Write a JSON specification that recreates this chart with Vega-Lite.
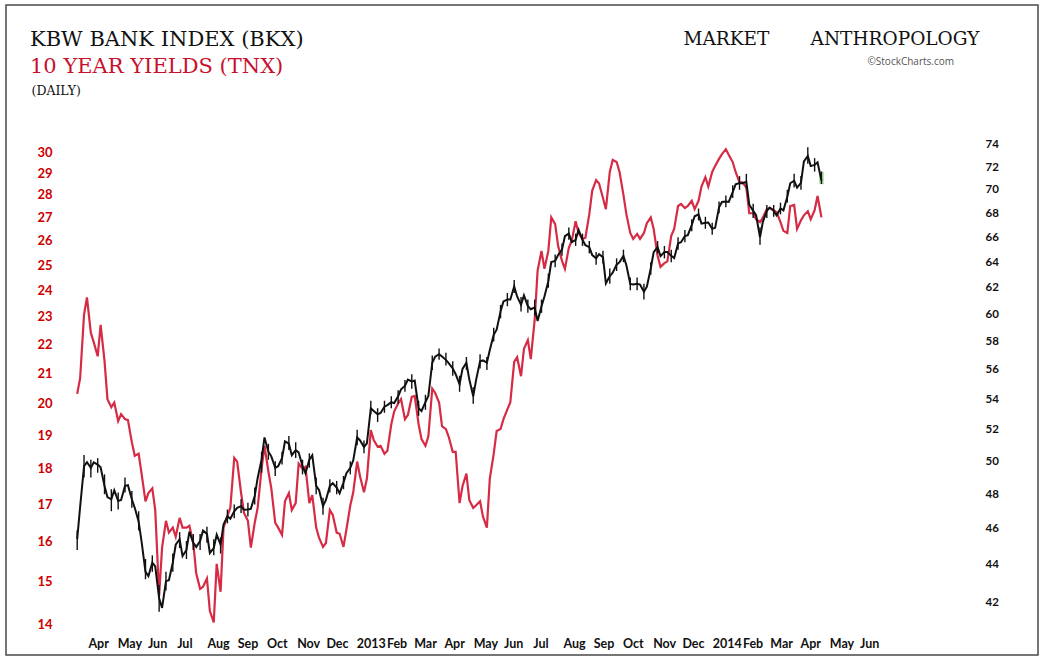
{
  "$schema": "https://vega.github.io/schema/vega-lite/v6.json",
  "width": 1032,
  "height": 650,
  "autosize": "none",
  "padding": {"left": 6, "top": 5, "right": 9, "bottom": 11},
  "background": "white",
  "config": {
    "view": {"stroke": "#4a4a4a", "strokeWidth": 1.5},
    "axis": {"grid": false, "domain": false, "ticks": false, "tickSize": 0, "minExtent": 0, "maxExtent": 0, "labelOverlap": false, "labelFlush": false}
  },
  "title": {
    "text": "KBW BANK INDEX (BKX)",
    "subtitle": "10 YEAR YIELDS (TNX)",
    "anchor": "start",
    "frame": "group",
    "offset": -72,
    "dx": 24,
    "font": "DejaVu Serif",
    "fontSize": 21,
    "fontWeight": "normal",
    "color": "#111111",
    "subtitleFont": "DejaVu Serif",
    "subtitleFontSize": 21,
    "subtitleColor": "#c8102e",
    "subtitlePadding": 6
  },
  "data": {
    "values": [
      {"date": "2012-03-20", "tnx": 20.31, "hi": 45.9, "lo": 44.8, "cl": 45.4},
      {"date": "2012-03-23", "tnx": 20.83, "cl": 47.26},
      {"date": "2012-03-27", "tnx": 23.08, "hi": 50.4, "lo": 49.0, "cl": 49.7},
      {"date": "2012-03-30", "tnx": 23.73, "cl": 49.94},
      {"date": "2012-04-03", "tnx": 22.41, "hi": 50.1, "lo": 49.0, "cl": 49.6},
      {"date": "2012-04-06", "tnx": 22.07, "cl": 49.94},
      {"date": "2012-04-10", "tnx": 21.58, "hi": 50.2, "lo": 49.3, "cl": 49.8},
      {"date": "2012-04-13", "tnx": 22.70, "cl": 49.63},
      {"date": "2012-04-17", "tnx": 21.42, "hi": 49.2, "lo": 48.0, "cl": 48.5},
      {"date": "2012-04-20", "tnx": 20.14, "cl": 47.83},
      {"date": "2012-04-24", "tnx": 19.88, "hi": 48.3, "lo": 47.0, "cl": 47.7},
      {"date": "2012-04-27", "tnx": 20.03, "cl": 48.24},
      {"date": "2012-05-01", "tnx": 19.44, "hi": 48.1, "lo": 47.1, "cl": 47.6},
      {"date": "2012-05-04", "tnx": 19.66, "cl": 47.66},
      {"date": "2012-05-08", "tnx": 19.50, "hi": 49.0, "lo": 48.1, "cl": 48.5},
      {"date": "2012-05-11", "tnx": 19.47, "cl": 48.54},
      {"date": "2012-05-15", "tnx": 18.79, "hi": 48.2, "lo": 47.2, "cl": 47.7},
      {"date": "2012-05-18", "tnx": 18.38, "cl": 47.20},
      {"date": "2012-05-22", "tnx": 18.44, "hi": 47.0, "lo": 45.9, "cl": 46.4},
      {"date": "2012-05-25", "tnx": 17.86, "cl": 45.26},
      {"date": "2012-05-29", "tnx": 17.08, "hi": 44.3, "lo": 43.2, "cl": 43.6},
      {"date": "2012-06-01", "tnx": 17.31, "cl": 43.37},
      {"date": "2012-06-05", "tnx": 17.44, "hi": 44.5, "lo": 43.6, "cl": 44.1},
      {"date": "2012-06-08", "tnx": 16.84, "cl": 43.89},
      {"date": "2012-06-12", "tnx": 14.67, "hi": 42.9, "lo": 41.5, "cl": 42.2},
      {"date": "2012-06-15", "tnx": 15.85, "cl": 41.69},
      {"date": "2012-06-19", "tnx": 16.55, "hi": 43.6, "lo": 42.6, "cl": 43.1},
      {"date": "2012-06-22", "tnx": 16.24, "cl": 43.15},
      {"date": "2012-06-26", "tnx": 16.37, "hi": 44.6, "lo": 43.6, "cl": 44.1},
      {"date": "2012-06-29", "tnx": 16.13, "cl": 45.09},
      {"date": "2012-07-03", "tnx": 16.63, "hi": 45.8, "lo": 44.9, "cl": 45.4},
      {"date": "2012-07-06", "tnx": 16.37, "cl": 44.46},
      {"date": "2012-07-10", "tnx": 16.37, "hi": 45.3, "lo": 44.3, "cl": 44.8},
      {"date": "2012-07-13", "tnx": 16.42, "cl": 45.83},
      {"date": "2012-07-17", "tnx": 15.97, "hi": 45.7, "lo": 44.8, "cl": 45.2},
      {"date": "2012-07-20", "tnx": 15.21, "cl": 44.97},
      {"date": "2012-07-24", "tnx": 14.83, "hi": 45.7, "lo": 44.8, "cl": 45.3},
      {"date": "2012-07-27", "tnx": 14.88, "cl": 45.89},
      {"date": "2012-07-31", "tnx": 15.08, "hi": 46.1, "lo": 45.2, "cl": 45.7},
      {"date": "2012-08-03", "tnx": 14.31, "cl": 44.63},
      {"date": "2012-08-07", "tnx": 14.05, "hi": 45.4, "lo": 44.5, "cl": 44.9},
      {"date": "2012-08-10", "tnx": 15.44, "cl": 45.66},
      {"date": "2012-08-14", "tnx": 14.76, "hi": 45.5, "lo": 44.6, "cl": 45.1},
      {"date": "2012-08-17", "tnx": 16.37, "cl": 46.23},
      {"date": "2012-08-21", "tnx": 16.68, "hi": 47.1, "lo": 46.3, "cl": 46.7},
      {"date": "2012-08-24", "tnx": 16.90, "cl": 46.57},
      {"date": "2012-08-28", "tnx": 18.32, "hi": 47.4, "lo": 46.6, "cl": 47.0},
      {"date": "2012-08-31", "tnx": 18.21, "cl": 47.20},
      {"date": "2012-09-04", "tnx": 17.31, "hi": 47.7, "lo": 46.9, "cl": 47.3},
      {"date": "2012-09-07", "tnx": 16.76, "cl": 47.09},
      {"date": "2012-09-11", "tnx": 16.55, "hi": 47.5, "lo": 46.7, "cl": 47.1},
      {"date": "2012-09-14", "tnx": 15.85, "cl": 47.14},
      {"date": "2012-09-18", "tnx": 16.50, "hi": 48.4, "lo": 47.4, "cl": 47.9},
      {"date": "2012-09-21", "tnx": 16.90, "cl": 48.98},
      {"date": "2012-09-25", "tnx": 18.00, "hi": 50.6, "lo": 49.3, "cl": 50.1},
      {"date": "2012-09-28", "tnx": 18.68, "cl": 51.50},
      {"date": "2012-10-02", "tnx": 17.92, "hi": 51.1, "lo": 50.1, "cl": 50.6},
      {"date": "2012-10-05", "tnx": 17.44, "cl": 50.31},
      {"date": "2012-10-09", "tnx": 16.50, "hi": 50.0, "lo": 49.1, "cl": 49.6},
      {"date": "2012-10-12", "tnx": 16.37, "cl": 49.70},
      {"date": "2012-10-16", "tnx": 16.18, "hi": 50.6, "lo": 49.8, "cl": 50.2},
      {"date": "2012-10-19", "tnx": 17.08, "cl": 51.25},
      {"date": "2012-10-23", "tnx": 17.31, "hi": 51.6, "lo": 50.7, "cl": 51.1},
      {"date": "2012-10-26", "tnx": 16.84, "cl": 50.38},
      {"date": "2012-10-30", "tnx": 17.03, "hi": 51.2, "lo": 50.2, "cl": 50.7},
      {"date": "2012-11-02", "tnx": 18.15, "cl": 50.56},
      {"date": "2012-11-06", "tnx": 18.00, "hi": 50.1, "lo": 49.2, "cl": 49.7},
      {"date": "2012-11-09", "tnx": 18.06, "cl": 49.27},
      {"date": "2012-11-13", "tnx": 17.03, "hi": 50.5, "lo": 49.6, "cl": 50.1},
      {"date": "2012-11-16", "tnx": 17.25, "cl": 50.38},
      {"date": "2012-11-20", "tnx": 16.37, "hi": 49.0, "lo": 48.0, "cl": 48.5},
      {"date": "2012-11-23", "tnx": 16.10, "cl": 48.24},
      {"date": "2012-11-27", "tnx": 15.87, "hi": 47.8, "lo": 46.8, "cl": 47.3},
      {"date": "2012-11-30", "tnx": 15.97, "cl": 47.66},
      {"date": "2012-12-04", "tnx": 16.84, "hi": 48.9, "lo": 48.1, "cl": 48.5},
      {"date": "2012-12-07", "tnx": 16.71, "cl": 48.66},
      {"date": "2012-12-11", "tnx": 16.24, "hi": 48.8, "lo": 48.0, "cl": 48.4},
      {"date": "2012-12-14", "tnx": 16.21, "cl": 48.06},
      {"date": "2012-12-18", "tnx": 15.87, "hi": 49.1, "lo": 48.3, "cl": 48.7},
      {"date": "2012-12-21", "tnx": 16.32, "cl": 49.27},
      {"date": "2012-12-25", "tnx": 16.97, "hi": 50.0, "lo": 49.2, "cl": 49.6},
      {"date": "2012-12-28", "tnx": 17.33, "cl": 50.06},
      {"date": "2013-01-01", "tnx": 18.21, "hi": 52.0, "lo": 51.0, "cl": 51.5},
      {"date": "2013-01-04", "tnx": 17.78, "cl": 51.31},
      {"date": "2013-01-08", "tnx": 17.33, "hi": 51.3, "lo": 50.5, "cl": 50.9},
      {"date": "2013-01-11", "tnx": 17.72, "cl": 51.13},
      {"date": "2013-01-15", "tnx": 19.16, "hi": 53.9, "lo": 53.0, "cl": 53.4},
      {"date": "2013-01-18", "tnx": 18.85, "cl": 53.22},
      {"date": "2013-01-22", "tnx": 18.65, "hi": 53.4, "lo": 52.5, "cl": 53.0},
      {"date": "2013-01-25", "tnx": 18.68, "cl": 53.09},
      {"date": "2013-01-29", "tnx": 18.44, "hi": 53.9, "lo": 53.1, "cl": 53.5},
      {"date": "2013-02-01", "tnx": 18.53, "cl": 53.61},
      {"date": "2013-02-05", "tnx": 19.34, "hi": 54.2, "lo": 53.4, "cl": 53.8},
      {"date": "2013-02-08", "tnx": 19.75, "cl": 53.74},
      {"date": "2013-02-12", "tnx": 20.00, "hi": 54.6, "lo": 53.7, "cl": 54.2},
      {"date": "2013-02-15", "tnx": 20.14, "cl": 54.67},
      {"date": "2013-02-19", "tnx": 19.50, "hi": 55.3, "lo": 54.5, "cl": 54.9},
      {"date": "2013-02-22", "tnx": 19.63, "cl": 55.33},
      {"date": "2013-02-26", "tnx": 20.21, "hi": 55.7, "lo": 54.7, "cl": 55.2},
      {"date": "2013-03-01", "tnx": 20.24, "cl": 55.26},
      {"date": "2013-03-05", "tnx": 19.34, "hi": 53.9, "lo": 52.9, "cl": 53.4},
      {"date": "2013-03-08", "tnx": 18.88, "cl": 53.22},
      {"date": "2013-03-12", "tnx": 18.68, "hi": 54.3, "lo": 53.3, "cl": 53.8},
      {"date": "2013-03-15", "tnx": 18.97, "cl": 54.22},
      {"date": "2013-03-19", "tnx": 20.48, "hi": 57.0, "lo": 56.0, "cl": 56.5},
      {"date": "2013-03-22", "tnx": 20.34, "cl": 56.93},
      {"date": "2013-03-26", "tnx": 20.03, "hi": 57.5, "lo": 56.7, "cl": 57.1},
      {"date": "2013-03-29", "tnx": 19.28, "cl": 56.93},
      {"date": "2013-04-02", "tnx": 19.19, "hi": 57.2, "lo": 56.3, "cl": 56.7},
      {"date": "2013-04-05", "tnx": 18.94, "cl": 56.46},
      {"date": "2013-04-09", "tnx": 18.50, "hi": 56.6, "lo": 55.6, "cl": 56.1},
      {"date": "2013-04-12", "tnx": 18.50, "cl": 55.70},
      {"date": "2013-04-16", "tnx": 17.03, "hi": 55.6, "lo": 54.5, "cl": 55.0},
      {"date": "2013-04-19", "tnx": 17.50, "cl": 56.07},
      {"date": "2013-04-23", "tnx": 17.86, "hi": 56.9, "lo": 56.0, "cl": 56.5},
      {"date": "2013-04-26", "tnx": 17.11, "cl": 55.33},
      {"date": "2013-04-30", "tnx": 16.90, "hi": 54.8, "lo": 53.7, "cl": 54.2},
      {"date": "2013-05-03", "tnx": 16.97, "cl": 55.33},
      {"date": "2013-05-07", "tnx": 17.08, "hi": 57.1, "lo": 56.1, "cl": 56.6},
      {"date": "2013-05-10", "tnx": 16.66, "cl": 56.66},
      {"date": "2013-05-14", "tnx": 16.37, "hi": 56.9, "lo": 56.0, "cl": 56.5},
      {"date": "2013-05-17", "tnx": 17.72, "cl": 57.40},
      {"date": "2013-05-21", "tnx": 18.44, "hi": 59.0, "lo": 58.0, "cl": 58.5},
      {"date": "2013-05-24", "tnx": 19.13, "cl": 58.86},
      {"date": "2013-05-28", "tnx": 19.19, "hi": 60.7, "lo": 59.7, "cl": 60.2},
      {"date": "2013-05-31", "tnx": 19.50, "cl": 60.96},
      {"date": "2013-06-04", "tnx": 19.81, "hi": 61.6, "lo": 60.6, "cl": 61.1},
      {"date": "2013-06-07", "tnx": 20.03, "cl": 61.11},
      {"date": "2013-06-11", "tnx": 21.39, "hi": 62.6, "lo": 61.6, "cl": 62.1},
      {"date": "2013-06-14", "tnx": 21.55, "cl": 61.33},
      {"date": "2013-06-18", "tnx": 20.90, "hi": 61.3, "lo": 60.2, "cl": 60.7},
      {"date": "2013-06-21", "tnx": 21.84, "cl": 61.41},
      {"date": "2013-06-25", "tnx": 22.15, "hi": 61.1, "lo": 60.1, "cl": 60.6},
      {"date": "2013-06-28", "tnx": 21.48, "cl": 60.37},
      {"date": "2013-07-02", "tnx": 22.89, "hi": 61.1, "lo": 59.9, "cl": 60.5},
      {"date": "2013-07-05", "tnx": 24.78, "cl": 59.50},
      {"date": "2013-07-09", "tnx": 25.58, "hi": 61.1, "lo": 60.1, "cl": 60.6},
      {"date": "2013-07-12", "tnx": 24.85, "cl": 61.33},
      {"date": "2013-07-16", "tnx": 25.58, "hi": 63.1, "lo": 62.0, "cl": 62.5},
      {"date": "2013-07-19", "tnx": 27.00, "cl": 64.00},
      {"date": "2013-07-23", "tnx": 26.71, "hi": 64.6, "lo": 63.6, "cl": 64.1},
      {"date": "2013-07-26", "tnx": 25.79, "cl": 64.56},
      {"date": "2013-07-30", "tnx": 25.17, "hi": 65.5, "lo": 64.5, "cl": 65.0},
      {"date": "2013-08-02", "tnx": 24.85, "cl": 66.09},
      {"date": "2013-08-06", "tnx": 25.71, "hi": 66.8, "lo": 65.8, "cl": 66.3},
      {"date": "2013-08-09", "tnx": 26.00, "cl": 65.60},
      {"date": "2013-08-13", "tnx": 26.83, "hi": 66.3, "lo": 65.3, "cl": 65.8},
      {"date": "2013-08-16", "tnx": 26.33, "cl": 66.61},
      {"date": "2013-08-20", "tnx": 26.08, "hi": 66.3, "lo": 65.3, "cl": 65.8},
      {"date": "2013-08-23", "tnx": 26.13, "cl": 65.36},
      {"date": "2013-08-27", "tnx": 27.14, "hi": 65.7, "lo": 64.7, "cl": 65.2},
      {"date": "2013-08-30", "tnx": 28.19, "cl": 64.56},
      {"date": "2013-09-03", "tnx": 28.67, "hi": 64.8, "lo": 63.8, "cl": 64.3},
      {"date": "2013-09-06", "tnx": 28.52, "cl": 64.64},
      {"date": "2013-09-10", "tnx": 27.86, "hi": 64.9, "lo": 63.9, "cl": 64.4},
      {"date": "2013-09-13", "tnx": 27.36, "cl": 62.33},
      {"date": "2013-09-17", "tnx": 29.05, "hi": 63.5, "lo": 62.3, "cl": 62.9},
      {"date": "2013-09-20", "tnx": 29.62, "cl": 63.17},
      {"date": "2013-09-24", "tnx": 29.52, "hi": 64.3, "lo": 63.3, "cl": 63.8},
      {"date": "2013-09-27", "tnx": 29.05, "cl": 64.00},
      {"date": "2013-10-01", "tnx": 28.00, "hi": 65.0, "lo": 64.0, "cl": 64.5},
      {"date": "2013-10-04", "tnx": 27.14, "cl": 63.75},
      {"date": "2013-10-08", "tnx": 26.33, "hi": 62.8, "lo": 61.8, "cl": 62.3},
      {"date": "2013-10-11", "tnx": 26.08, "cl": 62.25},
      {"date": "2013-10-15", "tnx": 26.29, "hi": 62.8, "lo": 61.8, "cl": 62.3},
      {"date": "2013-10-18", "tnx": 26.08, "cl": 62.25},
      {"date": "2013-10-22", "tnx": 26.33, "hi": 62.3, "lo": 61.1, "cl": 61.7},
      {"date": "2013-10-25", "tnx": 26.75, "cl": 62.08},
      {"date": "2013-10-29", "tnx": 27.00, "hi": 64.0, "lo": 63.0, "cl": 63.5},
      {"date": "2013-11-01", "tnx": 26.50, "cl": 64.80},
      {"date": "2013-11-05", "tnx": 25.38, "hi": 65.7, "lo": 64.7, "cl": 65.2},
      {"date": "2013-11-08", "tnx": 24.93, "cl": 64.48},
      {"date": "2013-11-12", "tnx": 25.08, "hi": 65.3, "lo": 64.3, "cl": 64.8},
      {"date": "2013-11-15", "tnx": 25.15, "cl": 64.80},
      {"date": "2013-11-19", "tnx": 26.21, "hi": 65.0, "lo": 64.0, "cl": 64.5},
      {"date": "2013-11-22", "tnx": 26.50, "cl": 64.32},
      {"date": "2013-11-26", "tnx": 27.50, "hi": 66.0, "lo": 65.0, "cl": 65.5},
      {"date": "2013-11-29", "tnx": 27.59, "cl": 65.60},
      {"date": "2013-12-03", "tnx": 27.41, "hi": 66.6, "lo": 65.6, "cl": 66.1},
      {"date": "2013-12-06", "tnx": 27.50, "cl": 66.17},
      {"date": "2013-12-10", "tnx": 27.73, "hi": 67.5, "lo": 66.5, "cl": 67.0},
      {"date": "2013-12-13", "tnx": 27.36, "cl": 67.74},
      {"date": "2013-12-17", "tnx": 27.73, "hi": 68.4, "lo": 67.4, "cl": 67.9},
      {"date": "2013-12-20", "tnx": 28.38, "cl": 67.13},
      {"date": "2013-12-24", "tnx": 28.81, "hi": 67.7, "lo": 66.7, "cl": 67.2},
      {"date": "2013-12-27", "tnx": 28.38, "cl": 67.22},
      {"date": "2013-12-31", "tnx": 29.05, "hi": 67.2, "lo": 66.2, "cl": 66.7},
      {"date": "2014-01-03", "tnx": 29.33, "cl": 66.78},
      {"date": "2014-01-07", "tnx": 29.67, "hi": 69.0, "lo": 68.0, "cl": 68.5},
      {"date": "2014-01-10", "tnx": 29.90, "cl": 68.96},
      {"date": "2014-01-14", "tnx": 30.14, "hi": 69.5, "lo": 68.5, "cl": 69.0},
      {"date": "2014-01-17", "tnx": 29.86, "cl": 68.96},
      {"date": "2014-01-21", "tnx": 29.52, "hi": 70.4, "lo": 69.3, "cl": 69.8},
      {"date": "2014-01-24", "tnx": 29.05, "cl": 70.48},
      {"date": "2014-01-28", "tnx": 28.57, "hi": 71.2, "lo": 70.0, "cl": 70.6},
      {"date": "2014-01-31", "tnx": 28.57, "cl": 70.57},
      {"date": "2014-02-04", "tnx": 28.33, "hi": 71.4, "lo": 70.1, "cl": 70.7},
      {"date": "2014-02-07", "tnx": 27.18, "cl": 68.72},
      {"date": "2014-02-11", "tnx": 27.18, "hi": 68.8, "lo": 67.6, "cl": 68.2},
      {"date": "2014-02-14", "tnx": 26.92, "cl": 67.83},
      {"date": "2014-02-18", "tnx": 26.79, "hi": 66.8, "lo": 65.4, "cl": 66.0},
      {"date": "2014-02-21", "tnx": 27.00, "cl": 67.30},
      {"date": "2014-02-25", "tnx": 27.36, "hi": 68.7, "lo": 67.6, "cl": 68.2},
      {"date": "2014-02-28", "tnx": 27.41, "cl": 68.48},
      {"date": "2014-03-04", "tnx": 27.32, "hi": 68.7, "lo": 67.7, "cl": 68.2},
      {"date": "2014-03-07", "tnx": 27.23, "cl": 67.83},
      {"date": "2014-03-11", "tnx": 26.79, "hi": 68.9, "lo": 67.9, "cl": 68.4},
      {"date": "2014-03-14", "tnx": 26.42, "cl": 68.24},
      {"date": "2014-03-18", "tnx": 26.33, "hi": 70.0, "lo": 68.9, "cl": 69.4},
      {"date": "2014-03-21", "tnx": 27.50, "cl": 70.57},
      {"date": "2014-03-25", "tnx": 27.55, "hi": 71.4, "lo": 70.2, "cl": 70.8},
      {"date": "2014-03-28", "tnx": 26.50, "cl": 70.19},
      {"date": "2014-04-01", "tnx": 26.87, "hi": 71.2, "lo": 70.0, "cl": 70.6},
      {"date": "2014-04-04", "tnx": 27.09, "cl": 72.52},
      {"date": "2014-04-08", "tnx": 27.27, "hi": 73.8, "lo": 72.3, "cl": 73.0},
      {"date": "2014-04-11", "tnx": 26.92, "cl": 72.09},
      {"date": "2014-04-15", "tnx": 27.32, "hi": 72.8, "lo": 71.6, "cl": 72.2},
      {"date": "2014-04-18", "tnx": 27.95, "cl": 72.43},
      {"date": "2014-04-22", "tnx": 27.00, "hi": 71.6, "lo": 70.5, "cl": 70.8}
    ]
  },
  "encoding": {
    "x": {
      "field": "date",
      "type": "temporal",
      "scale": {
        "domain": [{"year": 2012, "month": 1, "date": 7}, {"year": 2014, "month": 11, "date": 30}],
        "nice": false
      },
      "axis": {
        "orient": "bottom",
        "values": [
          {"year": 2012, "month": 4, "date": 1}, {"year": 2012, "month": 5, "date": 1}, {"year": 2012, "month": 6, "date": 1},
          {"year": 2012, "month": 7, "date": 1}, {"year": 2012, "month": 8, "date": 1}, {"year": 2012, "month": 9, "date": 1},
          {"year": 2012, "month": 10, "date": 1}, {"year": 2012, "month": 11, "date": 1}, {"year": 2012, "month": 12, "date": 1},
          {"year": 2013, "month": 1, "date": 1}, {"year": 2013, "month": 2, "date": 1}, {"year": 2013, "month": 3, "date": 1},
          {"year": 2013, "month": 4, "date": 1}, {"year": 2013, "month": 5, "date": 1}, {"year": 2013, "month": 6, "date": 1},
          {"year": 2013, "month": 7, "date": 1}, {"year": 2013, "month": 8, "date": 1}, {"year": 2013, "month": 9, "date": 1},
          {"year": 2013, "month": 10, "date": 1}, {"year": 2013, "month": 11, "date": 1}, {"year": 2013, "month": 12, "date": 1},
          {"year": 2014, "month": 1, "date": 1}, {"year": 2014, "month": 2, "date": 1}, {"year": 2014, "month": 3, "date": 1},
          {"year": 2014, "month": 4, "date": 1}, {"year": 2014, "month": 5, "date": 1}, {"year": 2014, "month": 6, "date": 1}
        ],
        "labelExpr": "month(datum.value) == 0 ? timeFormat(datum.value, '%Y') : timeFormat(datum.value, '%b')",
        "labelAlign": "left",
        "labelBaseline": "top",
        "labelPadding": -18,
        "labelOffset": -1,
        "labelFont": "Lato",
        "labelFontSize": 12.5,
        "labelFontWeight": "bold",
        "labelColor": "#111111",
        "title": "©StockCharts.com",
        "titleX": 861,
        "titleY": -591,
        "titleAlign": "left",
        "titleBaseline": "alphabetic",
        "titleFont": "Open Sans",
        "titleFontSize": 10,
        "titleFontWeight": "normal",
        "titleColor": "#555555"
      }
    }
  },
  "layer": [
    {
      "mark": {"type": "line", "color": "#d62b45", "strokeWidth": 2.2},
      "encoding": {
        "y": {
          "field": "tnx",
          "type": "quantitative",
          "scale": {"type": "log", "domain": [13.33, 38.03], "nice": false, "zero": false},
          "axis": {
            "orient": "left",
            "values": [14, 15, 16, 17, 18, 19, 20, 21, 22, 23, 24, 25, 26, 27, 28, 29, 30],
            "format": "d",
            "labelAlign": "right",
            "labelPadding": -46,
            "labelFont": "Lato",
            "labelFontSize": 13,
            "labelFontWeight": "bold",
            "labelColor": "#cc0000",
            "title": "(DAILY)",
            "titleX": 25,
            "titleY": 89,
            "titleAngle": 0,
            "titleAlign": "left",
            "titleBaseline": "alphabetic",
            "titleFont": "DejaVu Serif",
            "titleFontSize": 12.5,
            "titleFontWeight": "normal",
            "titleColor": "#111111"
          }
        }
      }
    },
    {
      "layer": [
        {
          "transform": [{"filter": {"timeUnit": "yearmonthdate", "field": "date", "equal": {"year": 2014, "month": 4, "date": 22}}}],
          "mark": {"type": "rule", "color": "#b5e6ad", "strokeWidth": 5},
          "encoding": {
            "y": {
              "field": "lo",
              "type": "quantitative",
              "scale": {"type": "log", "domain": [39.33, 88.02], "nice": false, "zero": false},
              "axis": {
                "orient": "right",
                "values": [42, 44, 46, 48, 50, 52, 54, 56, 58, 60, 62, 64, 66, 68, 70, 72, 74],
                "format": "d",
                "labelAlign": "left",
                "labelPadding": -53,
                "labelFont": "Lato",
                "labelFontSize": 11.5,
                "labelFontWeight": "bold",
                "labelColor": "#111111",
                "title": "MARKET\u00a0\u00a0\u00a0\u00a0\u00a0\u00a0\u00a0ANTHROPOLOGY",
                "titleX": -355,
                "titleY": 39,
                "titleAngle": 0,
                "titleAlign": "left",
                "titleBaseline": "alphabetic",
                "titleFont": "DejaVu Serif",
                "titleFontSize": 18.5,
                "titleFontWeight": "normal",
                "titleColor": "#111111"
              }
            },
            "y2": {"field": "hi"}
          }
        },
        {
          "transform": [{"filter": "isValid(datum.hi)"}],
          "mark": {"type": "rule", "color": "#111111", "strokeWidth": 1.4},
          "encoding": {
            "y": {
              "field": "lo",
              "type": "quantitative",
              "scale": {"type": "log", "domain": [39.33, 88.02], "nice": false, "zero": false},
              "axis": {
                "orient": "right",
                "values": [42, 44, 46, 48, 50, 52, 54, 56, 58, 60, 62, 64, 66, 68, 70, 72, 74],
                "format": "d",
                "labelAlign": "left",
                "labelPadding": -53,
                "labelFont": "Lato",
                "labelFontSize": 11.5,
                "labelFontWeight": "bold",
                "labelColor": "#111111",
                "title": "MARKET\u00a0\u00a0\u00a0\u00a0\u00a0\u00a0\u00a0ANTHROPOLOGY",
                "titleX": -355,
                "titleY": 39,
                "titleAngle": 0,
                "titleAlign": "left",
                "titleBaseline": "alphabetic",
                "titleFont": "DejaVu Serif",
                "titleFontSize": 18.5,
                "titleFontWeight": "normal",
                "titleColor": "#111111"
              }
            },
            "y2": {"field": "hi"}
          }
        },
        {
          "mark": {"type": "line", "color": "#111111", "strokeWidth": 2},
          "encoding": {
            "y": {
              "field": "cl",
              "type": "quantitative",
              "scale": {"type": "log", "domain": [39.33, 88.02], "nice": false, "zero": false},
              "axis": {
                "orient": "right",
                "values": [42, 44, 46, 48, 50, 52, 54, 56, 58, 60, 62, 64, 66, 68, 70, 72, 74],
                "format": "d",
                "labelAlign": "left",
                "labelPadding": -53,
                "labelFont": "Lato",
                "labelFontSize": 11.5,
                "labelFontWeight": "bold",
                "labelColor": "#111111",
                "title": "MARKET\u00a0\u00a0\u00a0\u00a0\u00a0\u00a0\u00a0ANTHROPOLOGY",
                "titleX": -355,
                "titleY": 39,
                "titleAngle": 0,
                "titleAlign": "left",
                "titleBaseline": "alphabetic",
                "titleFont": "DejaVu Serif",
                "titleFontSize": 18.5,
                "titleFontWeight": "normal",
                "titleColor": "#111111"
              }
            }
          }
        }
      ]
    }
  ],
  "resolve": {"scale": {"y": "independent"}}
}
